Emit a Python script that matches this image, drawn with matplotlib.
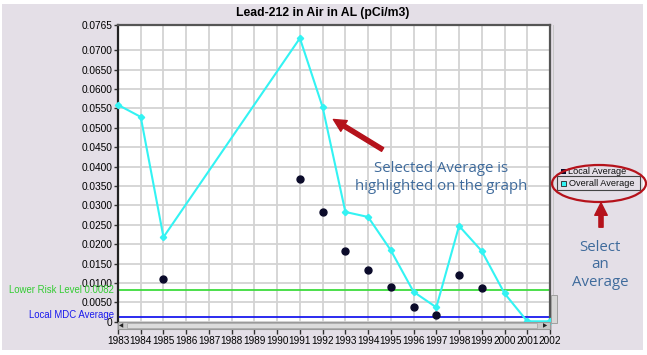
import numpy as np
import matplotlib
matplotlib.use('Agg')
import matplotlib.pyplot as plt
from matplotlib.patches import Rectangle, Ellipse, FancyArrowPatch
import matplotlib.transforms as mtransforms

plt.rcParams['font.family'] = ['Liberation Sans', 'DejaVu Sans']

# data
years = list(range(1983, 2003))
overall_years = [1983, 1984, 1985, 1991, 1992, 1993, 1994, 1995, 1996, 1997,
                 1998, 1999, 2000, 2001, 2002]
overall_avg = [0.0559, 0.0528, 0.0218, 0.0731, 0.0553, 0.0283, 0.0270, 0.0184,
               0.0077, 0.0037, 0.0247, 0.0182, 0.0073, 0.0001, 0.0001]
local_years = [1985, 1991, 1992, 1993, 1994, 1995, 1996, 1997, 1998, 1999]
local_avg = [0.0109, 0.0368, 0.0282, 0.0183, 0.0133, 0.0090, 0.0037, 0.0016,
             0.0121, 0.0088]
risk_level = 0.0082
mdc_level = 0.0013
ytick_vals = [0, 0.005, 0.01, 0.015, 0.02, 0.025, 0.03, 0.035, 0.04, 0.045,
              0.05, 0.055, 0.06, 0.065, 0.07, 0.0765]
ytick_labels = ['0', '0.0050', '0.0100', '0.0150', '0.0200', '0.0250', '0.0300',
                '0.0350', '0.0400', '0.0450', '0.0500', '0.0550', '0.0600',
                '0.0650', '0.0700', '0.0765']

W, H = 647, 355
fig = plt.figure(figsize=(W / 100, H / 100), dpi=100)
fig.patch.set_facecolor('white')

def fx(px):
    return px / W

def fy(py):
    return 1 - py / H

bg = '#e4dfe7'
fig.patches.append(Rectangle((fx(2), fy(350)), fx(641), (348 - 3) / H + 0.003,
                             transform=fig.transFigure, facecolor=bg,
                             edgecolor='none', zorder=-5))

ax = fig.add_axes([fx(118), fy(321.7), fx(550 - 118), (321.7 - 25) / H])
ax.set_facecolor('white')
ax.set_xlim(1983, 2002)
ax.set_ylim(0, 0.0765)
ax.set_xticks(years)
ax.set_xticklabels([str(y) for y in years], fontsize=7.2)
ax.set_yticks(ytick_vals)
ax.set_yticklabels(ytick_labels, fontsize=7.3)
ax.tick_params(axis='x', length=8.5, width=1, pad=2, color='#333333')
ax.tick_params(axis='y', length=3, width=1, pad=1, color='#333333')
ax.grid(True, color='#d3d3d3', linewidth=1.3)
ax.set_axisbelow(True)
for s in ['top', 'right']:
    ax.spines[s].set_color('#555555')
    ax.spines[s].set_linewidth(1.6)
ax.spines['left'].set_color('#222222')
ax.spines['left'].set_linewidth(1.6)
ax.spines['bottom'].set_visible(False)

ax.axhline(risk_level, color='#3ddc3d', linewidth=1.3, zorder=2)
ax.axhline(mdc_level, color='#1a1aee', linewidth=1.3, zorder=2)
trans = mtransforms.blended_transform_factory(ax.transAxes, ax.transData)
ax.text(-0.010, risk_level, 'Lower Risk Level 0.0082', color='#33cc33',
        fontsize=6.9, ha='right', va='center', transform=trans)
ax.text(-0.010, mdc_level + 0.0004, 'Local MDC Average', color='#1a1aee',
        fontsize=6.9, ha='right', va='center', transform=trans)

ax.plot(overall_years, overall_avg, color='#33f3f3', linewidth=1.5,
        marker='D', markersize=3.2, zorder=4, clip_on=False)
ax.plot(local_years, local_avg, 'o', color='#0b0b2a', markersize=5, zorder=5)

fig.text(fx(323), fy(13), 'Lead-212 in Air in AL (pCi/m3)', fontsize=8.8,
         fontweight='bold', ha='center', va='center')

# scrollbars
fig.patches.append(Rectangle((fx(118), fy(329)), fx(432), 7.5 / H,
                             transform=fig.transFigure, facecolor='#c9c9c9',
                             edgecolor='#9a9a9a', linewidth=0.8, zorder=3))
fig.patches.append(Rectangle((fx(127), fy(328)), fx(410), 5.5 / H,
                             transform=fig.transFigure, facecolor='#dcdcdc',
                             edgecolor='#aaaaaa', linewidth=0.6, zorder=3))
fig.text(fx(121.5), fy(325.5), '◀', fontsize=4, ha='center', va='center',
         color='#222222', zorder=4, family='DejaVu Sans')
fig.text(fx(545), fy(325.5), '▶', fontsize=4, ha='center', va='center',
         color='#222222', zorder=4, family='DejaVu Sans')
fig.patches.append(Rectangle((fx(552.5), fy(296)), fx(1.5), (296 - 25) / H,
                             transform=fig.transFigure, facecolor='#c8c8c8',
                             edgecolor='none', zorder=3))
fig.patches.append(Rectangle((fx(551), fy(323)), fx(6), 28 / H,
                             transform=fig.transFigure, facecolor='#d6d6d6',
                             edgecolor='#a0a0a0', linewidth=0.7, zorder=3))

# legend
fig.patches.append(Rectangle((fx(560.5), fy(174)), fx(5), 5 / H,
                             transform=fig.transFigure, facecolor='#0b0b2a',
                             edgecolor='none', zorder=4))
fig.text(fx(568), fy(171), 'Local Average', fontsize=6.6, va='center',
         color='#111111')
fig.patches.append(Rectangle((fx(557), fy(190)), fx(83), 14 / H,
                             transform=fig.transFigure, facecolor='none',
                             edgecolor='#444444', linewidth=0.8, zorder=4))
fig.patches.append(Rectangle((fx(560.5), fy(185.5)), fx(5), 5 / H,
                             transform=fig.transFigure, facecolor='#33f3f3',
                             edgecolor='#222222', linewidth=0.6, zorder=4))
fig.text(fx(569), fy(183), 'Overall Average', fontsize=6.6, va='center',
         color='#111111')

# annotations
red = '#b5121b'
fig.patches.append(Ellipse((fx(599), fy(183.5)), fx(94), 37 / H,
                           transform=fig.transFigure, facecolor='none',
                           edgecolor=red, linewidth=1.6, zorder=5))
fig.patches.append(FancyArrowPatch((fx(385), fy(151)), (fx(331), fy(118)),
                                   transform=fig.transFigure,
                                   arrowstyle='simple,head_width=9,head_length=9,tail_width=3',
                                   color=red, zorder=5))
fig.patches.append(FancyArrowPatch((fx(601), fy(230)), (fx(601), fy(200)),
                                   transform=fig.transFigure,
                                   arrowstyle='simple,head_width=9,head_length=9,tail_width=3',
                                   color=red, zorder=5))

note_color = '#3f6b9c'
fig.text(fx(441), fy(168), 'Selected Average is', fontsize=10.8, color=note_color,
         ha='center', va='center', family='Open Sans')
fig.text(fx(441), fy(187), 'highlighted on the graph', fontsize=10.8,
         color=note_color, ha='center', va='center', family='Open Sans')
fig.text(fx(600), fy(265), 'Select\nan\nAverage', fontsize=10.8, color=note_color,
         ha='center', va='center', family='Open Sans', linespacing=1.25)

fig.savefig('out.png', dpi=100)
